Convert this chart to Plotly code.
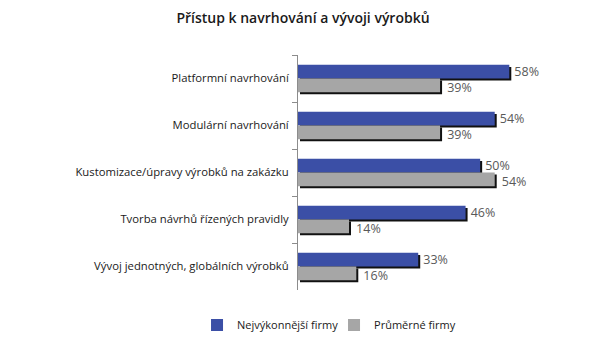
import plotly.graph_objects as go

categories = [
    "Platformní navrhování",
    "Modulární navrhování",
    "Kustomizace/úpravy výrobků na zakázku",
    "Tvorba návrhů řízených pravidly",
    "Vývoj jednotných, globálních výrobků",
]
top_firms = [58, 54, 50, 46, 33]
avg_firms = [39, 39, 54, 14, 16]
series_names = ["Nejvýkonnější firmy", "Průměrné firmy"]
title = "Přístup k navrhování a vývoji výrobků"

BLUE = "#3b4fa6"
GRAY = "#a6a6a6"
SHADOW = "#111111"
BW = 0.29
DX = 0.55   # shadow shift in % units
DY = 0.043  # shadow shift in category units
LABEL_FONT = dict(family="Open Sans", size=12.5, color="#595959")

fig = go.Figure()

def add_series(vals, color, name, off, label_on_shadow):
    labels = [f"\u2009{v}%" for v in vals]
    fig.add_trace(go.Bar(
        y=categories, x=vals, base=[DX] * len(vals),
        orientation="h", offset=off + DY, width=BW,
        marker=dict(color=SHADOW, line=dict(width=0)),
        text=labels if label_on_shadow else None,
        textposition="outside", constraintext="none", textfont=LABEL_FONT,
        cliponaxis=False, showlegend=False, hoverinfo="skip",
    ))
    fig.add_trace(go.Bar(
        y=categories, x=vals, orientation="h", offset=off, width=BW,
        name=name, marker=dict(color=color, line=dict(width=0)),
        text=None if label_on_shadow else labels,
        textposition="outside", constraintext="none", textfont=LABEL_FONT,
        cliponaxis=False,
    ))

add_series(top_firms, BLUE, series_names[0], -BW, False)
add_series(avg_firms, GRAY, series_names[1], 0, True)

fig.update_layout(
    width=600, height=344,
    margin=dict(l=298, r=47, t=55, b=54),
    paper_bgcolor="white", plot_bgcolor="white",
    barmode="overlay",
    title=dict(text=title, x=0.505, xanchor="center", y=0.947, yanchor="middle",
               font=dict(family="Open Sans", size=14, color="#1a1a1a", weight=600)),
    xaxis=dict(range=[0, 70], visible=False, fixedrange=True),
    yaxis=dict(type="category", autorange="reversed", tickson="boundaries",
               ticks="outside", ticklen=5, tickcolor="#8c8c8c",
               showline=True, linecolor="#8c8c8c", linewidth=1,
               showgrid=False, ticklabelstandoff=6,
               tickfont=dict(family="Open Sans", size=11.3, color="#1a1a1a")),
    legend=dict(orientation="h", xref="paper", yref="container",
                x=-0.396, xanchor="left", y=0.055, yanchor="middle",
                font=dict(family="Open Sans", size=11, color="#1a1a1a"),
                itemwidth=30, tracegroupgap=0, entrywidth=92),
    showlegend=True,
)

fig.write_html("out.html")
